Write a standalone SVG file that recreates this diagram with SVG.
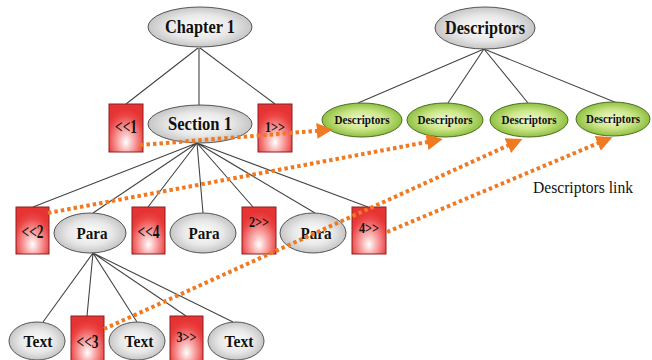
<svg xmlns="http://www.w3.org/2000/svg" width="652" height="360" viewBox="0 0 652 360">
<defs>
<radialGradient id="gGray" cx="50%" cy="50%" r="55%">
<stop offset="0" stop-color="#ffffff"/><stop offset="0.55" stop-color="#e8e8e8"/><stop offset="1" stop-color="#bdbdbd"/>
</radialGradient>
<radialGradient id="gGreen" cx="50%" cy="50%" r="55%">
<stop offset="0" stop-color="#f2f9d8"/><stop offset="0.5" stop-color="#cde68a"/><stop offset="1" stop-color="#80b832"/>
</radialGradient>
<radialGradient id="gRed" cx="50%" cy="75%" r="65%" fx="50%" fy="80%">
<stop offset="0" stop-color="#ffffff"/><stop offset="0.3" stop-color="#fbb6b6"/><stop offset="0.8" stop-color="#ec4646"/><stop offset="1" stop-color="#e63434"/>
</radialGradient>
<marker id="ah" viewBox="0 0 10 10" refX="7" refY="5" markerWidth="4" markerHeight="4" orient="auto" markerUnits="strokeWidth">
<path d="M0,0 L10,5 L0,10 z" fill="#f07a22"/>
</marker>
</defs>
<style>
.t{stroke:#444;stroke-width:1.1;fill:none}
.gray{fill:url(#gGray);stroke:#555;stroke-width:1}
.green{fill:url(#gGreen);stroke:#4e6e22;stroke-width:1}
.red{fill:url(#gRed);stroke:#8a2020;stroke-width:1}
.lnk{stroke:#f07a22;stroke-width:4;stroke-dasharray:3.5 3;fill:none}
text{font-family:"Liberation Serif","Times New Roman",serif;font-weight:bold;fill:#111;text-anchor:middle}
.big{font-size:19px}
.mid{font-size:17px}
.sm{font-size:13.5px}
.bx{font-size:18px}
.bx2{font-size:14px}
.plain{font-weight:normal;font-size:16px}
</style>
<rect width="652" height="360" fill="#ffffff"/>
<g id="edges">
<path class="t" d="M198,48 L126,104 M199,48 L199,105 M200,48 L275,104"/>
<path class="t" d="M484,49 L358,103 M484,49 L448,103 M484,49 L528,103 M484,49 L617,103"/>
<path class="t" d="M197,143 L33,207 M197,143 L93,213 M197,143 L148,207 M197,143 L203,213 M197,143 L253,207 M197,143 L315,213 M197,143 L368,207"/>
<path class="t" d="M93,253 L43,322 M93,253 L87,316 M93,253 L137,322 M93,253 L186,316 M93,253 L233,322"/>
</g>
<g id="n-chapter1"><ellipse class="gray" cx="200" cy="27" rx="52" ry="20"/><text class="big" x="200" y="33" textLength="70" lengthAdjust="spacingAndGlyphs">Chapter 1</text></g>
<g id="n-section1"><ellipse class="gray" cx="200" cy="124" rx="52" ry="19"/><text class="big" x="200" y="130" textLength="64" lengthAdjust="spacingAndGlyphs">Section 1</text></g>
<g id="n-l1"><rect class="red" x="109" y="104" width="34" height="48"/><text class="bx" x="126" y="133" textLength="22" lengthAdjust="spacingAndGlyphs">&lt;&lt;1</text></g>
<g id="n-r1"><rect class="red" x="258" y="104" width="34" height="48"/><text class="bx2" x="275" y="132" textLength="20" lengthAdjust="spacingAndGlyphs">1&gt;&gt;</text></g>
<g id="n-desc"><ellipse class="gray" cx="485" cy="28" rx="50" ry="21"/><text class="big" x="485" y="34" textLength="80" lengthAdjust="spacingAndGlyphs">Descriptors</text></g>
<g id="n-d1"><ellipse class="green" cx="362" cy="120" rx="40" ry="17"/><text class="sm" x="362" y="124" textLength="55" lengthAdjust="spacingAndGlyphs">Descriptors</text></g>
<g id="n-d2"><ellipse class="green" cx="445" cy="120" rx="38" ry="17"/><text class="sm" x="445" y="124" textLength="55" lengthAdjust="spacingAndGlyphs">Descriptors</text></g>
<g id="n-d3"><ellipse class="green" cx="529" cy="120" rx="39" ry="17"/><text class="sm" x="529" y="124" textLength="55" lengthAdjust="spacingAndGlyphs">Descriptors</text></g>
<g id="n-d4"><ellipse class="green" cx="613" cy="119" rx="37" ry="17"/><text class="sm" x="613" y="123" textLength="54" lengthAdjust="spacingAndGlyphs">Descriptors</text></g>
<g id="n-l2"><rect class="red" x="16" y="207" width="33" height="47"/><text class="bx" x="32.5" y="238" textLength="22" lengthAdjust="spacingAndGlyphs">&lt;&lt;2</text></g>
<g id="n-para1"><ellipse class="gray" cx="90" cy="233" rx="36" ry="20"/><text class="mid" x="92" y="239" textLength="31" lengthAdjust="spacingAndGlyphs">Para</text></g>
<g id="n-l4"><rect class="red" x="132" y="207" width="33" height="47"/><text class="bx" x="148.5" y="238" textLength="22" lengthAdjust="spacingAndGlyphs">&lt;&lt;4</text></g>
<g id="n-para2"><ellipse class="gray" cx="203" cy="233" rx="33" ry="20"/><text class="mid" x="204" y="239" textLength="31" lengthAdjust="spacingAndGlyphs">Para</text></g>
<g id="n-r2"><rect class="red" x="242" y="207" width="34" height="47"/><text class="bx2" x="259" y="227" textLength="20" lengthAdjust="spacingAndGlyphs">2&gt;&gt;</text></g>
<g id="n-para3"><ellipse class="gray" cx="313" cy="233" rx="33" ry="20"/><text class="mid" x="316" y="239" textLength="31" lengthAdjust="spacingAndGlyphs">Para</text></g>
<g id="n-r4"><rect class="red" x="352" y="207" width="34" height="47"/><text class="bx2" x="369" y="233" textLength="20" lengthAdjust="spacingAndGlyphs">4&gt;&gt;</text></g>
<g id="n-text1"><ellipse class="gray" cx="37" cy="341" rx="28" ry="19"/><text class="mid" x="38" y="347" textLength="29" lengthAdjust="spacingAndGlyphs">Text</text></g>
<g id="n-l3"><rect class="red" x="71" y="316" width="33" height="46"/><text class="bx" x="87.5" y="348" textLength="22" lengthAdjust="spacingAndGlyphs">&lt;&lt;3</text></g>
<g id="n-text2"><ellipse class="gray" cx="137" cy="341" rx="28" ry="19"/><text class="mid" x="139" y="347" textLength="29" lengthAdjust="spacingAndGlyphs">Text</text></g>
<g id="n-r3"><rect class="red" x="170" y="316" width="33" height="46"/><text class="bx2" x="186.5" y="342" textLength="20" lengthAdjust="spacingAndGlyphs">3&gt;&gt;</text></g>
<g id="n-text3"><ellipse class="gray" cx="236" cy="341" rx="28" ry="19"/><text class="mid" x="239" y="347" textLength="29" lengthAdjust="spacingAndGlyphs">Text</text></g>
<g id="links">
<path class="lnk" d="M140,145 L328,130" marker-end="url(#ah)"/>
<path class="lnk" d="M48,213 L438,140" marker-end="url(#ah)"/>
<path class="lnk" d="M104,329 L518,141" marker-end="url(#ah)"/>
<path class="lnk" d="M387,232 L608,139" marker-end="url(#ah)"/>
</g>
<text class="plain" x="583" y="193" textLength="100" lengthAdjust="spacingAndGlyphs">Descriptors link</text>
</svg>
